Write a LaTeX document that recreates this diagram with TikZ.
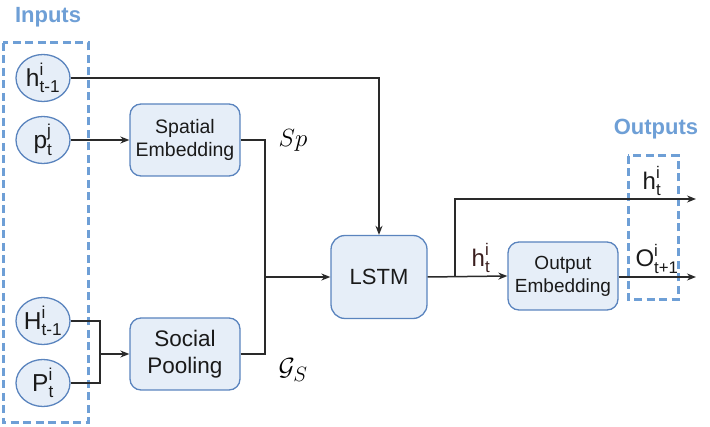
\documentclass[tikz,border=0pt]{standalone}
\usepackage{amsmath}
\usepackage{fontspec}
\setmainfont{Liberation Sans}
\usetikzlibrary{arrows.meta,shapes.geometric}
\definecolor{boxfill}{HTML}{E6EEF8}
\definecolor{boxdraw}{HTML}{5A84BE}
\definecolor{dashblue}{HTML}{6E9FD6}
\definecolor{txt}{HTML}{1A1A1A}
\definecolor{wire}{HTML}{2A2A2A}
\definecolor{hred}{HTML}{3A1E1E}
\newcommand{\sv}[3]{$\text{#1}^{\text{#2}}_{\text{#3}}$}
\begin{document}
\begin{tikzpicture}[x=1pt,y=-1pt,
  inp/.style={ellipse,draw=boxdraw,fill=boxfill,line width=1.3pt,minimum width=54pt,minimum height=47pt,inner sep=0pt,text=txt,font=\fontsize{24.5}{28}\selectfont},
  block/.style={rectangle,rounded corners=11pt,draw=boxdraw,fill=boxfill,line width=1.3pt,text=txt,align=center,inner sep=0pt},
  wireline/.style={draw=wire,line width=1.5pt},
  arr/.style={wireline,-{Stealth[length=9pt,width=7pt]}},
  dbox/.style={draw=dashblue,line width=3pt,dash pattern=on 8pt off 4.5pt},
  grp/.style={text=dashblue,font=\fontsize{22}{26}\selectfont\bfseries},
  lab/.style={text=txt,font=\fontsize{24}{28}\selectfont},
]
\useasboundingbox (0,0) rectangle (710,427);
% group boxes
\draw[dbox] (3,43) rectangle (88,423);
\draw[dbox] (628,156) rectangle (678,300);
\node[grp] (inlab) at (48,17) {Inputs};
\node[grp] (outlab) at (656,129) {Outputs};
% inputs
\node[inp] (h1) at (43,78) {\sv{h}{i}{t-1}};
\node[inp] (p) at (43,140) {\sv{p}{j}{t}};
\node[inp] (H) at (43,321) {\sv{H}{i}{t-1}};
\node[inp] (P) at (43,383) {\sv{P}{i}{t}};
% blocks
\node[block,minimum width=110pt,minimum height=72pt,font=\fontsize{19.5}{23}\selectfont] (se) at (185,140) {Spatial\\Embedding};
\node[block,minimum width=110pt,minimum height=72pt,font=\fontsize{22.5}{27}\selectfont] (sp) at (185,354) {Social\\Pooling};
\node[block,minimum width=96pt,minimum height=83pt,rounded corners=14pt,font=\fontsize{22}{26}\selectfont] (lstm) at (379,277) {LSTM};
\node[block,minimum width=110pt,minimum height=68pt,font=\fontsize{19}{23}\selectfont] (oe) at (563,276) {Output\\Embedding};
% math labels
\node[text=black,font=\fontsize{30}{34}\selectfont] (splab) at (293,140) {$Sp$};
\node[text=black,font=\fontsize{30}{34}\selectfont] (gslab) at (293,370) {$\mathcal{G}_S$};
% coordinates
\coordinate (j) at (265,277);
\coordinate (k) at (100,354);
\coordinate (b) at (455,277);
\coordinate (ht) at (696,199);
\coordinate (ot) at (696,277);
% connectors
\draw[arr] (h1.east) -| (lstm.north);
\draw[arr] (p.east) -- (se.west);
\draw[wireline] (se.east) -| (j);
\draw[wireline] (sp.east) -| (j);
\draw[arr] (j) -- (lstm.west);
\draw[wireline] (H.east) -| (k);
\draw[wireline] (P.east) -| (k);
\draw[arr] (k) -- (sp.west);
\draw[arr] (lstm.east) -- (oe.west);
\draw[arr] (b) |- (ht);
\draw[arr] (oe.east |- ot) -- (ot);
% output labels
\node[lab] (htl) at (652,181) {\sv{h}{i}{t}};
\node[lab] (otl) at (657,259) {\sv{O}{i}{t+1}};
\node[lab,text=hred] (hml) at (481,258) {\sv{h}{i}{t}};
\end{tikzpicture}
\end{document}
